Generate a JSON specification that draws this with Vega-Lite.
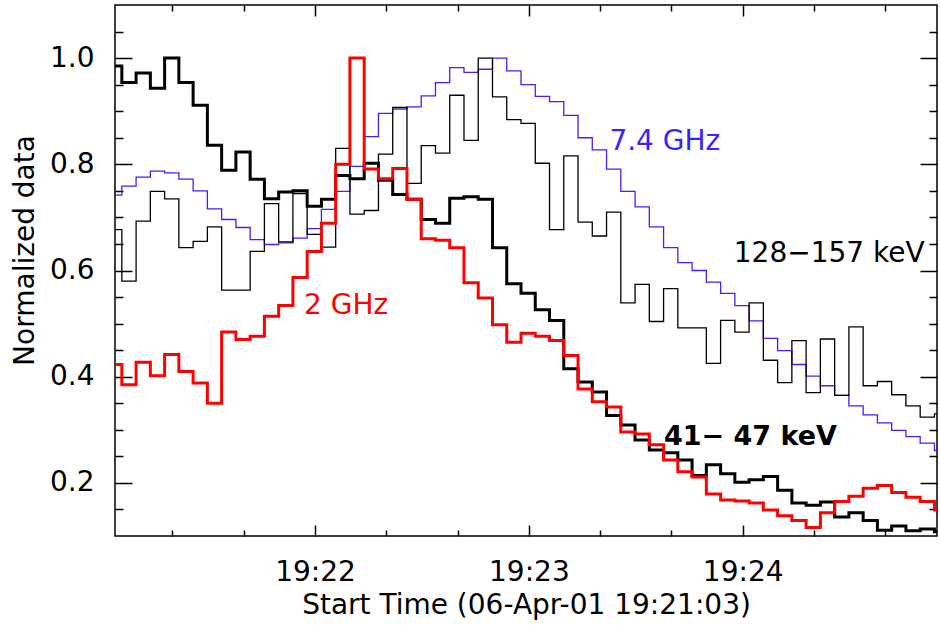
{
  "$schema": "https://vega.github.io/schema/vega-lite/v6.json",
  "width": 822,
  "height": 531,
  "autosize": {"type": "none"},
  "padding": {"left": 115, "top": 5, "right": 3, "bottom": 89},
  "background": "#ffffff",
  "config": {
    "view": {"stroke": "#000000", "strokeWidth": 1.5},
    "axis": {
      "domain": false, "grid": false, "ticks": true, "tickColor": "#000000", "tickWidth": 1.5, "tickOpacity": 1,
      "labelFont": "DejaVu Sans", "labelFontSize": 28, "labelColor": "#000000",
      "titleFont": "DejaVu Sans", "titleFontSize": 28, "titleFontWeight": "normal", "titleColor": "#000000",
      "labelOverlap": false, "labelFlush": false, "zindex": 1
    },
    "text": {"font": "DejaVu Sans", "fontSize": 28}
  },
  "datasets": {
    "bins": [
      {"time": "2001-04-06T19:21:01.800Z", "ghz7": 0.742, "kev128": 0.677, "kev41": 0.985, "ghz2": 0.423},
      {"time": "2001-04-06T19:21:05.800Z", "ghz7": 0.759, "kev128": 0.580, "kev41": 0.954, "ghz2": 0.385},
      {"time": "2001-04-06T19:21:09.800Z", "ghz7": 0.776, "kev128": 0.693, "kev41": 0.972, "ghz2": 0.427},
      {"time": "2001-04-06T19:21:13.800Z", "ghz7": 0.787, "kev128": 0.749, "kev41": 0.943, "ghz2": 0.402},
      {"time": "2001-04-06T19:21:17.800Z", "ghz7": 0.784, "kev128": 0.735, "kev41": 1.000, "ghz2": 0.442},
      {"time": "2001-04-06T19:21:21.800Z", "ghz7": 0.772, "kev128": 0.643, "kev41": 0.954, "ghz2": 0.410},
      {"time": "2001-04-06T19:21:25.800Z", "ghz7": 0.750, "kev128": 0.655, "kev41": 0.911, "ghz2": 0.388},
      {"time": "2001-04-06T19:21:29.800Z", "ghz7": 0.716, "kev128": 0.682, "kev41": 0.836, "ghz2": 0.350},
      {"time": "2001-04-06T19:21:33.800Z", "ghz7": 0.696, "kev128": 0.563, "kev41": 0.789, "ghz2": 0.484},
      {"time": "2001-04-06T19:21:37.800Z", "ghz7": 0.681, "kev128": 0.563, "kev41": 0.823, "ghz2": 0.470},
      {"time": "2001-04-06T19:21:41.800Z", "ghz7": 0.658, "kev128": 0.636, "kev41": 0.772, "ghz2": 0.476},
      {"time": "2001-04-06T19:21:45.800Z", "ghz7": 0.649, "kev128": 0.726, "kev41": 0.735, "ghz2": 0.514},
      {"time": "2001-04-06T19:21:49.800Z", "ghz7": 0.652, "kev128": 0.654, "kev41": 0.748, "ghz2": 0.534},
      {"time": "2001-04-06T19:21:53.800Z", "ghz7": 0.661, "kev128": 0.745, "kev41": 0.750, "ghz2": 0.587},
      {"time": "2001-04-06T19:21:57.800Z", "ghz7": 0.679, "kev128": 0.668, "kev41": 0.721, "ghz2": 0.636},
      {"time": "2001-04-06T19:22:01.800Z", "ghz7": 0.715, "kev128": 0.644, "kev41": 0.734, "ghz2": 0.689},
      {"time": "2001-04-06T19:22:05.800Z", "ghz7": 0.749, "kev128": 0.830, "kev41": 0.779, "ghz2": 0.800},
      {"time": "2001-04-06T19:22:09.800Z", "ghz7": 0.796, "kev128": 0.706, "kev41": 0.773, "ghz2": 1.000},
      {"time": "2001-04-06T19:22:13.800Z", "ghz7": 0.852, "kev128": 0.713, "kev41": 0.802, "ghz2": 0.791},
      {"time": "2001-04-06T19:22:17.800Z", "ghz7": 0.896, "kev128": 0.819, "kev41": 0.770, "ghz2": 0.773},
      {"time": "2001-04-06T19:22:21.800Z", "ghz7": 0.904, "kev128": 0.907, "kev41": 0.743, "ghz2": 0.792},
      {"time": "2001-04-06T19:22:25.800Z", "ghz7": 0.908, "kev128": 0.764, "kev41": 0.734, "ghz2": 0.734},
      {"time": "2001-04-06T19:22:29.800Z", "ghz7": 0.929, "kev128": 0.835, "kev41": 0.696, "ghz2": 0.660},
      {"time": "2001-04-06T19:22:33.800Z", "ghz7": 0.954, "kev128": 0.821, "kev41": 0.689, "ghz2": 0.657},
      {"time": "2001-04-06T19:22:37.800Z", "ghz7": 0.982, "kev128": 0.930, "kev41": 0.736, "ghz2": 0.643},
      {"time": "2001-04-06T19:22:41.800Z", "ghz7": 0.973, "kev128": 0.845, "kev41": 0.739, "ghz2": 0.577},
      {"time": "2001-04-06T19:22:45.800Z", "ghz7": 0.979, "kev128": 1.000, "kev41": 0.734, "ghz2": 0.548},
      {"time": "2001-04-06T19:22:49.800Z", "ghz7": 1.000, "kev128": 0.927, "kev41": 0.643, "ghz2": 0.498},
      {"time": "2001-04-06T19:22:53.800Z", "ghz7": 0.976, "kev128": 0.884, "kev41": 0.575, "ghz2": 0.465},
      {"time": "2001-04-06T19:22:57.800Z", "ghz7": 0.950, "kev128": 0.877, "kev41": 0.557, "ghz2": 0.482},
      {"time": "2001-04-06T19:23:01.800Z", "ghz7": 0.928, "kev128": 0.802, "kev41": 0.526, "ghz2": 0.476},
      {"time": "2001-04-06T19:23:05.800Z", "ghz7": 0.918, "kev128": 0.677, "kev41": 0.506, "ghz2": 0.468},
      {"time": "2001-04-06T19:23:09.800Z", "ghz7": 0.892, "kev128": 0.816, "kev41": 0.415, "ghz2": 0.440},
      {"time": "2001-04-06T19:23:13.800Z", "ghz7": 0.850, "kev128": 0.691, "kev41": 0.390, "ghz2": 0.377},
      {"time": "2001-04-06T19:23:17.800Z", "ghz7": 0.827, "kev128": 0.665, "kev41": 0.371, "ghz2": 0.353},
      {"time": "2001-04-06T19:23:21.800Z", "ghz7": 0.791, "kev128": 0.710, "kev41": 0.327, "ghz2": 0.343},
      {"time": "2001-04-06T19:23:25.800Z", "ghz7": 0.749, "kev128": 0.539, "kev41": 0.309, "ghz2": 0.296},
      {"time": "2001-04-06T19:23:29.800Z", "ghz7": 0.720, "kev128": 0.574, "kev41": 0.281, "ghz2": 0.292},
      {"time": "2001-04-06T19:23:33.800Z", "ghz7": 0.682, "kev128": 0.504, "kev41": 0.262, "ghz2": 0.272},
      {"time": "2001-04-06T19:23:37.800Z", "ghz7": 0.643, "kev128": 0.566, "kev41": 0.257, "ghz2": 0.243},
      {"time": "2001-04-06T19:23:41.800Z", "ghz7": 0.615, "kev128": 0.492, "kev41": 0.243, "ghz2": 0.221},
      {"time": "2001-04-06T19:23:45.800Z", "ghz7": 0.600, "kev128": 0.492, "kev41": 0.214, "ghz2": 0.211},
      {"time": "2001-04-06T19:23:49.800Z", "ghz7": 0.578, "kev128": 0.425, "kev41": 0.234, "ghz2": 0.179},
      {"time": "2001-04-06T19:23:53.800Z", "ghz7": 0.557, "kev128": 0.506, "kev41": 0.217, "ghz2": 0.168},
      {"time": "2001-04-06T19:23:57.800Z", "ghz7": 0.534, "kev128": 0.484, "kev41": 0.201, "ghz2": 0.166},
      {"time": "2001-04-06T19:24:01.800Z", "ghz7": 0.505, "kev128": 0.539, "kev41": 0.206, "ghz2": 0.162},
      {"time": "2001-04-06T19:24:05.800Z", "ghz7": 0.472, "kev128": 0.431, "kev41": 0.212, "ghz2": 0.149},
      {"time": "2001-04-06T19:24:09.800Z", "ghz7": 0.449, "kev128": 0.389, "kev41": 0.186, "ghz2": 0.138},
      {"time": "2001-04-06T19:24:13.800Z", "ghz7": 0.423, "kev128": 0.468, "kev41": 0.162, "ghz2": 0.129},
      {"time": "2001-04-06T19:24:17.800Z", "ghz7": 0.401, "kev128": 0.370, "kev41": 0.158, "ghz2": 0.116},
      {"time": "2001-04-06T19:24:21.800Z", "ghz7": 0.383, "kev128": 0.471, "kev41": 0.164, "ghz2": 0.144},
      {"time": "2001-04-06T19:24:25.800Z", "ghz7": 0.365, "kev128": 0.365, "kev41": 0.136, "ghz2": 0.165},
      {"time": "2001-04-06T19:24:29.800Z", "ghz7": 0.345, "kev128": 0.494, "kev41": 0.144, "ghz2": 0.175},
      {"time": "2001-04-06T19:24:33.800Z", "ghz7": 0.328, "kev128": 0.383, "kev41": 0.129, "ghz2": 0.190},
      {"time": "2001-04-06T19:24:37.800Z", "ghz7": 0.313, "kev128": 0.391, "kev41": 0.111, "ghz2": 0.195},
      {"time": "2001-04-06T19:24:41.800Z", "ghz7": 0.299, "kev128": 0.366, "kev41": 0.119, "ghz2": 0.182},
      {"time": "2001-04-06T19:24:45.800Z", "ghz7": 0.287, "kev128": 0.345, "kev41": 0.110, "ghz2": 0.173},
      {"time": "2001-04-06T19:24:49.800Z", "ghz7": 0.275, "kev128": 0.324, "kev41": 0.113, "ghz2": 0.165},
      {"time": "2001-04-06T19:24:53.800Z", "ghz7": 0.261, "kev128": 0.330, "kev41": 0.108, "ghz2": 0.149},
      {"time": "2001-04-06T19:24:57.800Z", "ghz7": 0.261, "kev128": 0.330, "kev41": 0.108, "ghz2": 0.149}
    ],
    "labels": [
      {"label": "7.4 GHz", "time": "2001-04-06T19:23:22.600Z", "value": 0.827},
      {"label": "128−157 keV", "time": "2001-04-06T19:23:57.500Z", "value": 0.616},
      {"label": "2 GHz", "time": "2001-04-06T19:21:56.900Z", "value": 0.5175}
    ],
    "boldlabels": [
      {"label": "41− 47 keV", "time": "2001-04-06T19:23:37.900Z", "value": 0.2714}
    ]
  },
  "resolve": {"axis": {"x": "independent", "y": "independent"}},
  "layer": [
    {
      "data": {"name": "bins"},
      "mark": {"type": "line", "interpolate": "step-after", "clip": true, "color": "#3b22ff", "strokeWidth": 1.3},
      "encoding": {
        "x": {
          "field": "time", "type": "temporal",
          "scale": {"type": "utc", "domain": [
            {"year": 2001, "month": 4, "date": 6, "hours": 19, "minutes": 21, "seconds": 3, "milliseconds": 880, "utc": true},
            {"year": 2001, "month": 4, "date": 6, "hours": 19, "minutes": 24, "seconds": 54, "milliseconds": 520, "utc": true}
          ]},
          "axis": {
            "orient": "bottom",
            "values": [
              {"year": 2001, "month": 4, "date": 6, "hours": 19, "minutes": 22, "seconds": 0, "utc": true},
              {"year": 2001, "month": 4, "date": 6, "hours": 19, "minutes": 23, "seconds": 0, "utc": true},
              {"year": 2001, "month": 4, "date": 6, "hours": 19, "minutes": 24, "seconds": 0, "utc": true}
            ],
            "labelExpr": "utcFormat(datum.value, '%H:%M')",
            "tickSize": -11,
            "labelPadding": 33,
            "title": "Start Time (06-Apr-01 19:21:03)",
            "titleBaseline": "alphabetic",
            "titleY": 77
          }
        },
        "y": {
          "field": "ghz7", "type": "quantitative",
          "scale": {"domain": [0.1, 1.1], "nice": false, "zero": false},
          "axis": {
            "orient": "left",
            "values": [0.2, 0.4, 0.6, 0.8, 1.0],
            "format": ".1f",
            "tickSize": -17,
            "labelPadding": 38,
            "title": "Normalized data",
            "titleAngle": 270,
            "titleAlign": "center",
            "titleBaseline": "alphabetic",
            "titleX": -82,
            "titleY": 245
          }
        }
      }
    },
    {
      "data": {"name": "bins"},
      "mark": {"type": "line", "interpolate": "step-after", "clip": true, "color": "#000000", "strokeWidth": 1.3},
      "encoding": {
        "x": {
          "field": "time", "type": "temporal",
          "scale": {"type": "utc"},
          "axis": {
            "orient": "top",
            "values": [
              {"year": 2001, "month": 4, "date": 6, "hours": 19, "minutes": 22, "seconds": 0, "utc": true},
              {"year": 2001, "month": 4, "date": 6, "hours": 19, "minutes": 23, "seconds": 0, "utc": true},
              {"year": 2001, "month": 4, "date": 6, "hours": 19, "minutes": 24, "seconds": 0, "utc": true}
            ],
            "labels": false,
            "tickSize": -11,
            "title": null
          }
        },
        "y": {
          "field": "kev128", "type": "quantitative",
          "scale": {"domain": [0.1, 1.1], "nice": false, "zero": false},
          "axis": {
            "orient": "right",
            "values": [0.2, 0.4, 0.6, 0.8, 1.0],
            "labels": false,
            "tickSize": -17,
            "title": null
          }
        }
      }
    },
    {
      "data": {"name": "bins"},
      "mark": {"type": "line", "interpolate": "step-after", "clip": true, "color": "#000000", "strokeWidth": 3},
      "encoding": {
        "x": {
          "field": "time", "type": "temporal", "scale": {"type": "utc"},
          "axis": {
            "orient": "bottom",
            "values": [
              {"year": 2001, "month": 4, "date": 6, "hours": 19, "minutes": 21, "seconds": 20, "utc": true},
              {"year": 2001, "month": 4, "date": 6, "hours": 19, "minutes": 21, "seconds": 40, "utc": true},
              {"year": 2001, "month": 4, "date": 6, "hours": 19, "minutes": 22, "seconds": 20, "utc": true},
              {"year": 2001, "month": 4, "date": 6, "hours": 19, "minutes": 22, "seconds": 40, "utc": true},
              {"year": 2001, "month": 4, "date": 6, "hours": 19, "minutes": 23, "seconds": 20, "utc": true},
              {"year": 2001, "month": 4, "date": 6, "hours": 19, "minutes": 23, "seconds": 40, "utc": true},
              {"year": 2001, "month": 4, "date": 6, "hours": 19, "minutes": 24, "seconds": 20, "utc": true},
              {"year": 2001, "month": 4, "date": 6, "hours": 19, "minutes": 24, "seconds": 40, "utc": true}
            ],
            "labels": false,
            "tickSize": -6,
            "title": null
          }
        },
        "y": {
          "field": "kev41", "type": "quantitative",
          "scale": {"domain": [0.1, 1.1], "nice": false, "zero": false},
          "axis": {
            "orient": "left",
            "values": [0.15, 0.25, 0.3, 0.35, 0.45, 0.5, 0.55, 0.65, 0.7, 0.75, 0.85, 0.9, 0.95, 1.05],
            "labels": false,
            "tickSize": -8,
            "title": null
          }
        }
      }
    },
    {
      "data": {"name": "bins"},
      "mark": {"type": "line", "interpolate": "step-after", "clip": true, "color": "#ff0000", "strokeWidth": 3},
      "encoding": {
        "x": {
          "field": "time", "type": "temporal", "scale": {"type": "utc"},
          "axis": {
            "orient": "top",
            "values": [
              {"year": 2001, "month": 4, "date": 6, "hours": 19, "minutes": 21, "seconds": 20, "utc": true},
              {"year": 2001, "month": 4, "date": 6, "hours": 19, "minutes": 21, "seconds": 40, "utc": true},
              {"year": 2001, "month": 4, "date": 6, "hours": 19, "minutes": 22, "seconds": 20, "utc": true},
              {"year": 2001, "month": 4, "date": 6, "hours": 19, "minutes": 22, "seconds": 40, "utc": true},
              {"year": 2001, "month": 4, "date": 6, "hours": 19, "minutes": 23, "seconds": 20, "utc": true},
              {"year": 2001, "month": 4, "date": 6, "hours": 19, "minutes": 23, "seconds": 40, "utc": true},
              {"year": 2001, "month": 4, "date": 6, "hours": 19, "minutes": 24, "seconds": 20, "utc": true},
              {"year": 2001, "month": 4, "date": 6, "hours": 19, "minutes": 24, "seconds": 40, "utc": true}
            ],
            "labels": false,
            "tickSize": -6,
            "title": null
          }
        },
        "y": {
          "field": "ghz2", "type": "quantitative",
          "scale": {"domain": [0.1, 1.1], "nice": false, "zero": false},
          "axis": {
            "orient": "right",
            "values": [0.15, 0.25, 0.3, 0.35, 0.45, 0.5, 0.55, 0.65, 0.7, 0.75, 0.85, 0.9, 0.95, 1.05],
            "labels": false,
            "tickSize": -8,
            "title": null
          }
        }
      }
    },
    {
      "data": {"name": "labels"},
      "mark": {"type": "text", "align": "left", "baseline": "alphabetic", "font": "DejaVu Sans", "fontSize": 28},
      "encoding": {
        "x": {"field": "time", "type": "temporal", "scale": {"type": "utc"}, "axis": null},
        "y": {"field": "value", "type": "quantitative", "scale": {"domain": [0.1, 1.1], "nice": false, "zero": false}, "axis": null},
        "text": {"field": "label"},
        "color": {"field": "label", "type": "nominal", "scale": {"domain": ["7.4 GHz", "128−157 keV", "2 GHz"], "range": ["#3b22ff", "#000000", "#ff0000"]}, "legend": null}
      }
    },
    {
      "data": {"name": "boldlabels"},
      "mark": {"type": "text", "align": "left", "baseline": "alphabetic", "font": "DejaVu Sans", "fontSize": 27, "fontWeight": "bold", "color": "#000000"},
      "encoding": {
        "x": {"field": "time", "type": "temporal", "scale": {"type": "utc"}, "axis": null},
        "y": {"field": "value", "type": "quantitative", "scale": {"domain": [0.1, 1.1], "nice": false, "zero": false}, "axis": null},
        "text": {"field": "label"}
      }
    }
  ]
}
